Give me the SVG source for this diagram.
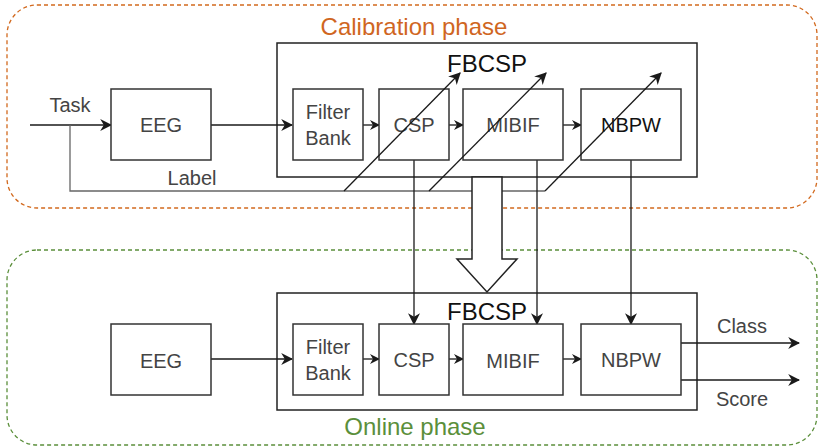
<svg xmlns="http://www.w3.org/2000/svg" width="818" height="448" viewBox="0 0 818 448">
<defs>
<marker id="ah" viewBox="0 0 10 10" refX="9" refY="5" markerWidth="10" markerHeight="10" markerUnits="userSpaceOnUse" orient="auto">
<path d="M0,0 L10,5 L0,10 L3,5 z" fill="#1a1a1a"/>
</marker>
<marker id="ahs" viewBox="0 0 10 10" refX="9" refY="5" markerWidth="12" markerHeight="12" markerUnits="userSpaceOnUse" orient="auto">
<path d="M0,0 L10,5 L0,10 L3,5 z" fill="#1a1a1a"/>
</marker>
</defs>
<style>
.box{fill:#fff;stroke:#333;stroke-width:1.5}
.grp{fill:none;stroke:#222;stroke-width:1.5}
.lbl{font-family:"Liberation Sans",Arial,sans-serif;font-size:20px;fill:#444;text-anchor:middle}
.big{font-family:"Liberation Sans",Arial,sans-serif;font-size:24px;fill:#111;text-anchor:middle}
.ttl{font-family:"Liberation Sans",Arial,sans-serif;font-size:24px;text-anchor:middle}
.ln{fill:none;stroke:#1a1a1a;stroke-width:1.3}
.gl{fill:none;stroke:#666;stroke-width:1.3}
</style>
<g id="calibration">
<rect x="7" y="5" width="810" height="203" rx="30" ry="30" fill="none" stroke="#D2691E" stroke-width="1.3" stroke-dasharray="4,3"/>
<text class="ttl" x="414" y="35" fill="#D0661F">Calibration phase</text>
</g>
<g id="online">
<rect x="7" y="250" width="810" height="195" rx="30" ry="30" fill="none" stroke="#5B8F3B" stroke-width="1.3" stroke-dasharray="4,3"/>
<text class="ttl" x="415" y="435" fill="#5B8F3B">Online phase</text>
</g>
<g id="fbcsp-cal"><rect class="grp" x="277" y="43" width="420" height="134"/></g>
<g id="fbcsp-onl"><rect class="grp" x="277" y="293" width="420" height="117"/></g>
<g id="connectors">
<line class="ln" x1="30" y1="125" x2="111" y2="125" marker-end="url(#ahs)"/>
<polyline class="gl" points="70,125 70,191 545,191"/>
<line class="ln" x1="211" y1="125" x2="292" y2="125" marker-end="url(#ahs)"/>
<line class="ln" x1="363" y1="125" x2="379" y2="125" marker-end="url(#ah)"/>
<line class="ln" x1="449" y1="125" x2="463" y2="125" marker-end="url(#ah)"/>
<line class="ln" x1="563" y1="125" x2="581" y2="125" marker-end="url(#ah)"/>
<line class="ln" x1="211" y1="359" x2="292" y2="359" marker-end="url(#ahs)"/>
<line class="ln" x1="363" y1="359" x2="379" y2="359" marker-end="url(#ah)"/>
<line class="ln" x1="449" y1="359" x2="463" y2="359" marker-end="url(#ah)"/>
<line class="ln" x1="563" y1="359" x2="581" y2="359" marker-end="url(#ah)"/>
<line class="ln" x1="414" y1="160" x2="414" y2="324" marker-end="url(#ahs)"/>
<line class="ln" x1="537" y1="160" x2="537" y2="324" marker-end="url(#ahs)"/>
<line class="ln" x1="631" y1="160" x2="631" y2="324" marker-end="url(#ahs)"/>
<line class="ln" x1="681" y1="343" x2="799" y2="343" marker-end="url(#ahs)"/>
<line class="ln" x1="681" y1="380" x2="799" y2="380" marker-end="url(#ahs)"/>
<path d="M472,177 L502,177 L502,259 L517,259 L487,292 L457,259 L472,259 Z" fill="#fff" stroke="#222" stroke-width="1.5"/>
</g>
<g id="eeg-cal"><rect class="box" x="111" y="89" width="100" height="71"/><text class="lbl" x="161" y="132">EEG</text></g>
<g id="fb-cal"><rect class="box" x="293" y="89" width="70" height="71"/><text class="lbl" x="328" y="119">Filter</text><text class="lbl" x="328" y="145">Bank</text></g>
<g id="csp-cal"><rect class="box" x="379" y="89" width="70" height="71"/><text class="lbl" x="414" y="132">CSP</text></g>
<g id="mibif-cal"><rect class="box" x="463" y="89" width="100" height="71"/><text class="lbl" x="513" y="132">MIBIF</text></g>
<g id="nbpw-cal"><rect class="box" x="581" y="89" width="100" height="71"/><text class="lbl" x="631" y="132" style="fill:#111">NBPW</text></g>
<g id="eeg-onl"><rect class="box" x="111" y="324" width="100" height="71"/><text class="lbl" x="161" y="368">EEG</text></g>
<g id="fb-onl"><rect class="box" x="293" y="324" width="70" height="71"/><text class="lbl" x="328" y="354">Filter</text><text class="lbl" x="328" y="380">Bank</text></g>
<g id="csp-onl"><rect class="box" x="379" y="324" width="70" height="71"/><text class="lbl" x="414" y="367">CSP</text></g>
<g id="mibif-onl"><rect class="box" x="463" y="324" width="100" height="71"/><text class="lbl" x="513" y="368">MIBIF</text></g>
<g id="nbpw-onl"><rect class="box" x="581" y="324" width="100" height="71"/><text class="lbl" x="631" y="367">NBPW</text></g>
<g id="diagonals">
<line class="ln" x1="344" y1="191" x2="460" y2="73" marker-end="url(#ahs)"/>
<line class="ln" x1="429" y1="191" x2="546" y2="73" marker-end="url(#ahs)"/>
<line class="ln" x1="545" y1="191" x2="661" y2="73" marker-end="url(#ahs)"/>
</g>
<g id="labels">
<text class="big" x="487" y="72">FBCSP</text>
<text class="big" x="487" y="320">FBCSP</text>
<text class="lbl" x="70" y="112">Task</text>
<text class="lbl" x="192" y="185">Label</text>
<text class="lbl" x="742" y="333">Class</text>
<text class="lbl" x="742" y="406">Score</text>
</g>
</svg>
